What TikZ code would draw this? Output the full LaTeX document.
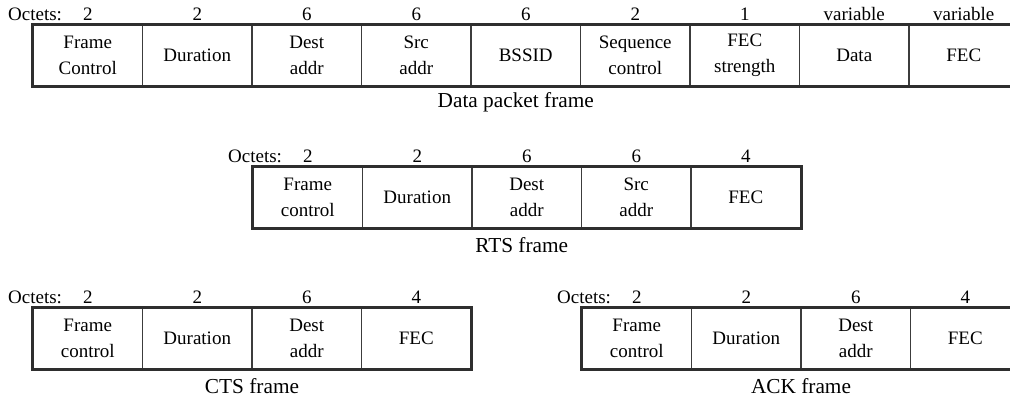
\documentclass[tikz,border=0pt]{standalone}
\usepackage{fontspec}
\setmainfont{Liberation Serif}
\usetikzlibrary{calc}
\definecolor{outerc}{HTML}{2E2E2E}
\definecolor{innerc}{HTML}{3C3C3C}
\tikzset{
  x=1pt, y=-1pt,
  txt/.style={font=\fontsize{19}{25.5}\selectfont, inner sep=0pt, text=black},
  cell/.style={txt, draw=innerc, line width=1.4pt, minimum width=109.5pt,
    minimum height=61pt, align=center},
  octnum/.style={txt},
  octlbl/.style={txt, anchor=west},
  outer/.style={draw=outerc, line width=3.4pt},
  captxt/.style={txt, font=\fontsize{21.3}{25}\selectfont}
}
\newcommand\pktframe[6]{%
  \node[octlbl] (#1oct) at (#2-25,#3-11) {Octets:};
  \foreach \lab/\oct [count=\i] in {#4} {
    \node[cell] (#1c\i) at ({#2+(\i-0.5)*109.5},{#3+30.5}) {\lab};
    \node[octnum] (#1n\i) at ({#2+(\i-0.5)*109.5},{#3-11}) {\oct};
    \xdef\lastcell{\i}
  }
  \draw[outer] (#1c1.north west) rectangle (#1c\lastcell.south east);
  \node[captxt] (#1cap) at ($(#1c1.south west)!0.5!(#1c\lastcell.south east)+(#6,16)$) {#5};
}
\begin{document}
\begin{tikzpicture}
\useasboundingbox (0,0) rectangle (1010,401);
\pktframe{d}{33}{25}{{Frame\\Control}/2, Duration/2, {Dest\\addr}/6, {Src\\addr}/6, BSSID/6, {Sequence\\control}/2, {FEC\\strength}/1, Data/variable, FEC/variable}{Data packet frame}{-10}
\pktframe{r}{253}{167}{{Frame\\control}/2, Duration/2, {Dest\\addr}/6, {Src\\addr}/6, FEC/4}{RTS frame}{-5}
\pktframe{c}{33}{308}{{Frame\\control}/2, Duration/2, {Dest\\addr}/6, FEC/4}{CTS frame}{0}
\pktframe{a}{582}{308}{{Frame\\control}/2, Duration/2, {Dest\\addr}/6, FEC/4}{ACK frame}{0}
\end{tikzpicture}
\end{document}
